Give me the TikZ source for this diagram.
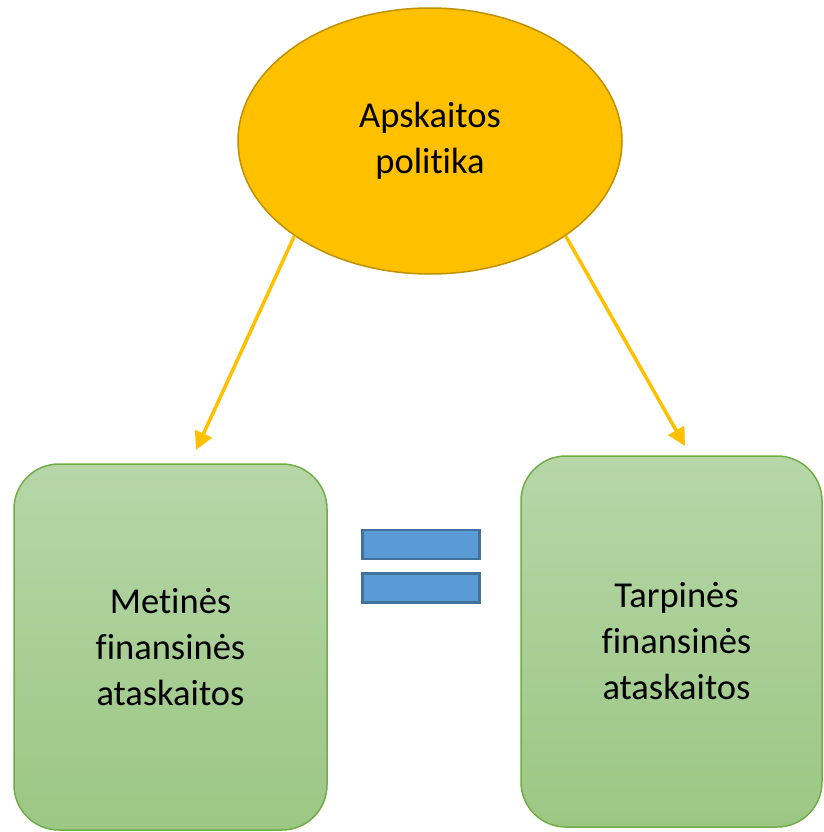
\documentclass[tikz,border=0pt]{standalone}
\usepackage{fontspec}
\setmainfont[Ligatures={NoCommon}]{Carlito}
\usetikzlibrary{shapes.geometric,arrows.meta}
\definecolor{gold}{HTML}{FFC000}
\definecolor{golddark}{HTML}{BF9000}
\definecolor{greentop}{HTML}{B6D6A8}
\definecolor{greenbot}{HTML}{9CC783}
\definecolor{greenline}{HTML}{70AD47}
\definecolor{barfill}{HTML}{5B9BD5}
\definecolor{barline}{HTML}{41719C}
\tikzset{
  policy/.style={ellipse, fill=gold, draw=golddark, line width=1.5pt,
    minimum width=384pt, minimum height=266pt, inner sep=0pt,
    align=center, font=\fontsize{36.5}{46}\selectfont},
  report/.style={rectangle, rounded corners=45pt, draw=greenline, line width=1.5pt,
    top color=greentop, bottom color=greenbot, align=center, inner sep=0pt,
    font=\fontsize{36.5}{46}\selectfont},
  bar/.style={rectangle, fill=barfill, draw=barline, line width=2.5pt,
    minimum width=117pt, minimum height=29pt, inner sep=0pt},
  flow/.style={draw=gold, line width=3.5pt, -{Triangle[length=18pt,width=18pt]}}
}
\begin{document}
\begin{tikzpicture}[x=1pt,y=-1pt]
\useasboundingbox (0,0) rectangle (823,832);
\node[policy] (ell) at (430,141) {Apskaitos\\politika};
\node[report, minimum width=313pt, minimum height=366pt] (left) at (170.5,647) {Metinės\\finansinės\\ataskaitos};
\node[report, minimum width=301pt, minimum height=371pt] (right) at (671.5,641.5) {\hspace*{10pt}Tarpinės\\\hspace*{10pt}finansinės\\\hspace*{10pt}ataskaitos};
\node[bar] (bar1) at (421,544.5) {};
\node[bar] (bar2) at (421,588) {};
\coordinate (tl) at (196,450);
\coordinate (tr) at (685,446);
\draw[flow] (ell.215) -- (tl);
\draw[flow] (ell.-35) -- (tr);
\end{tikzpicture}
\end{document}
